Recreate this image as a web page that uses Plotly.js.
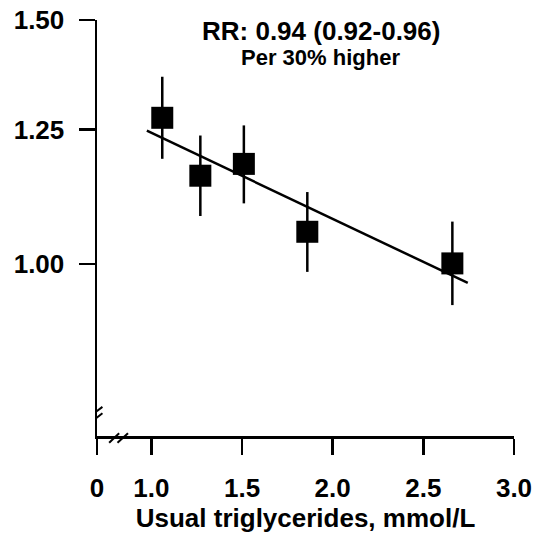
<!DOCTYPE html>
<html>
<head>
<meta charset="utf-8">
<script src="https://cdn.plot.ly/plotly-3.0.1.min.js"></script>
<style>html,body{margin:0;padding:0;background:#fff;}</style>
</head>
<body>
<div id="chart" style="width:545px;height:537px;"></div>
<script>
// Data
const triglycerides = [1.06, 1.27, 1.51, 1.86, 2.66];
const rr = [1.275, 1.158, 1.181, 1.055, 1.001];
const rrUpper = [1.365, 1.238, 1.259, 1.127, 1.073];
const rrLower = [1.191, 1.083, 1.106, 0.987, 0.934];
const fitX = [0.975, 2.745];
const fitY = [1.248, 0.969];
const xTickVals = [0.7, 1.0, 1.5, 2.0, 2.5, 3.0];
const xTickText = ['0', '1.0', '1.5', '2.0', '2.5', '3.0'];
const yTickVals = [1.0, 1.25, 1.5];
const yTickText = ['1.00', '1.25', '1.50'];

const FONT = 'Liberation Sans, Arial, sans-serif';

const fit = {
  x: fitX, y: fitY, type: 'scatter', mode: 'lines',
  line: {color: '#000', width: 2.5}, hoverinfo: 'skip'
};
const pts = {
  x: triglycerides, y: rr, type: 'scatter', mode: 'markers',
  marker: {symbol: 'square', size: 22, color: '#000'},
  error_y: {
    type: 'data', symmetric: false,
    array: rr.map((v, i) => rrUpper[i] - v),
    arrayminus: rr.map((v, i) => v - rrLower[i]),
    width: 0, thickness: 2.5, color: '#000'
  }
};

function brk(x0, y0, x1, y1) {
  return {type: 'line', xref: 'x', yref: 'paper', x0: x0, y0: y0, x1: x1, y1: y1,
          line: {color: '#000', width: 2}};
}
const shapes = [
  // y-axis break marks
  brk(0.675, 0.052, 0.730, 0.070),
  brk(0.675, 0.036, 0.730, 0.0545),
  // x-axis break marks
  brk(0.767, -0.016, 0.822, 0.0065),
  brk(0.813, -0.016, 0.871, 0.0065)
];

const layout = {
  width: 545, height: 537,
  margin: {l: 97, r: 31, t: 20, b: 101},
  paper_bgcolor: '#fff', plot_bgcolor: '#fff',
  showlegend: false,
  font: {family: FONT, color: '#000', size: 26, weight: 'bold'},
  xaxis: {
    range: [0.7, 3.0], tickvals: xTickVals, ticktext: xTickText,
    showline: true, linewidth: 2.5, linecolor: '#000',
    ticks: 'outside', ticklen: 16, tickwidth: 2.5, tickcolor: '#000',
    showgrid: false, zeroline: false, ticklabelstandoff: 11,
    tickfont: {family: FONT, size: 26, weight: 'bold'},
    title: {text: 'Usual triglycerides, mmol/L', standoff: 6,
            font: {family: FONT, size: 26, weight: 'bold'}}
  },
  yaxis: {
    type: 'log', range: [Math.log10(0.7514), Math.log10(1.5)],
    tickvals: yTickVals, ticktext: yTickText,
    showline: true, linewidth: 2.5, linecolor: '#000',
    ticks: 'outside', ticklen: 16, tickwidth: 2.5, tickcolor: '#000',
    showgrid: false, zeroline: false, ticklabelstandoff: 9,
    tickfont: {family: FONT, size: 26, weight: 'bold'}
  },
  shapes: shapes,
  annotations: [
    {text: 'RR: 0.94 (0.92-0.96)', xref: 'paper', yref: 'paper', x: 0.537, y: 0.974,
     showarrow: false, xanchor: 'center', yanchor: 'middle',
     font: {family: FONT, size: 26, weight: 'bold'}},
    {text: 'Per 30% higher', xref: 'paper', yref: 'paper', x: 0.537, y: 0.91,
     showarrow: false, xanchor: 'center', yanchor: 'middle',
     font: {family: FONT, size: 22, weight: 'bold'}}
  ]
};

Plotly.newPlot('chart', [fit, pts], layout, {displayModeBar: false, staticPlot: true});
</script>
</body>
</html>
